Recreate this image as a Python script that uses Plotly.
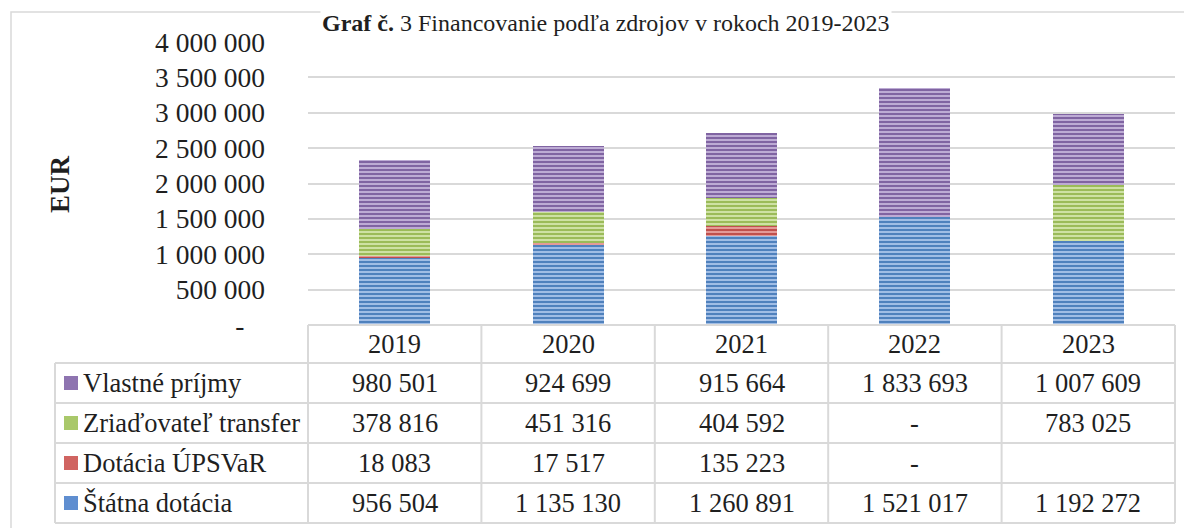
import plotly.graph_objects as go

W, H = 1192, 528
OFF = 8  # page body margin of the browser

years = ["2019", "2020", "2021", "2022", "2023"]
statna_dotacia = [956504, 1135130, 1260891, 1521017, 1192272]
dotacia_upsvar = [18083, 17517, 135223, 0, None]
zriadovatel_transfer = [378816, 451316, 404592, 0, 783025]
vlastne_prijmy = [980501, 924699, 915664, 1833693, 1007609]

series_names = ["Štátna dotácia", "Dotácia ÚPSVaR", "Zriaďovateľ transfer", "Vlastné príjmy"]
series_values = [statna_dotacia, dotacia_upsvar, zriadovatel_transfer, vlastne_prijmy]
series_bg = ["#4f81bd", "#c0504d", "#9bbb59", "#8064a2"]
series_fg = ["#a9c4ea", "#e8a3a1", "#d4e6ad", "#c4b3da"]
series_key = ["#5f8ed0", "#d06461", "#a9c86a", "#8e74b0"]

y_ticks = [0, 500000, 1000000, 1500000, 2000000, 2500000, 3000000, 3500000, 4000000]

FONT = "Liberation Serif"
TXT = "#1f1f1f"
GRID = "#d9d9d9"
TFS = 26.5


def fmt(v):
    if v is None:
        return ""
    if v == 0:
        return "-"
    return f"{v:,}".replace(",", " ")


def px(x):
    return (x - OFF) / W


def py(y):
    return 1 - (y - OFF) / H


plot_l, plot_r, plot_t, plot_b = 308, 1175, 42, 325
leg_l = 55
row_lines = [363, 403, 443, 483, 523]
ncol = len(years)
colw = (plot_r - plot_l) / ncol

fig = go.Figure()
for name, vals, bg, fg in zip(series_names, series_values, series_bg, series_fg):
    fig.add_trace(go.Bar(
        x=years, y=[v if v is not None else 0 for v in vals], name=name,
        marker=dict(color=bg, line=dict(width=0),
                    pattern=dict(shape="-", bgcolor=bg, fgcolor=fg, size=4, solidity=0.45,
                                 fillmode="overlay", fgopacity=1)),
        showlegend=False, hoverinfo="skip"))

shapes = []
annotations = []
# outer chart border
shapes.append(dict(type="rect", xref="paper", yref="paper", x0=px(11), x1=px(1210), y0=py(12), y1=py(560),
                   line=dict(color=GRID, width=1.5), layer="below"))
# table horizontal lines
shapes.append(dict(type="line", xref="paper", yref="paper", x0=px(plot_l), x1=px(plot_r), y0=py(plot_b), y1=py(plot_b),
                   line=dict(color=GRID, width=2)))
for yl in row_lines:
    shapes.append(dict(type="line", xref="paper", yref="paper", x0=px(leg_l), x1=px(plot_r), y0=py(yl), y1=py(yl),
                       line=dict(color=GRID, width=2)))
# vertical lines
for i in range(ncol + 1):
    xl = plot_l + i * colw
    shapes.append(dict(type="line", xref="paper", yref="paper", x0=px(xl), x1=px(xl), y0=py(plot_b), y1=py(row_lines[-1]),
                       line=dict(color=GRID, width=2)))
shapes.append(dict(type="line", xref="paper", yref="paper", x0=px(leg_l), x1=px(leg_l), y0=py(row_lines[0]), y1=py(row_lines[-1]),
                   line=dict(color=GRID, width=2)))

# header years
for i, yr in enumerate(years):
    annotations.append(dict(x=px(plot_l + (i + 0.5) * colw), y=py((plot_b + row_lines[0]) / 2), xref="paper", yref="paper",
                            text=yr, showarrow=False, xanchor="center", yanchor="middle",
                            font=dict(family=FONT, size=TFS, color=TXT)))

# table rows (top to bottom: reverse of stack order)
order = list(range(len(series_names)))[::-1]
for r, si in enumerate(order):
    yc = (row_lines[r] + row_lines[r + 1]) / 2
    shapes.append(dict(type="rect", xref="paper", yref="paper", x0=px(64), x1=px(78), y0=py(yc - 7), y1=py(yc + 7),
                       fillcolor=series_key[si], line=dict(width=0)))
    annotations.append(dict(x=px(81), y=py(yc), xref="paper", yref="paper", text=series_names[si],
                            showarrow=False, xanchor="left", yanchor="middle",
                            font=dict(family=FONT, size=TFS, color=TXT)))
    for i in range(ncol):
        annotations.append(dict(x=px(plot_l + (i + 0.5) * colw), y=py(yc), xref="paper", yref="paper",
                                text=fmt(series_values[si][i]), showarrow=False, xanchor="center", yanchor="middle",
                                font=dict(family=FONT, size=TFS, color=TXT)))

# y axis title
annotations.append(dict(x=px(60), y=py(184), xref="paper", yref="paper", text="<b>EUR</b>", textangle=-90,
                        showarrow=False, xanchor="center", yanchor="middle",
                        font=dict(family=FONT, size=27, color=TXT)))
# title
annotations.append(dict(x=px(606), y=py(8), xref="paper", yref="paper",
                        text="<b>Graf č.</b> 3 Financovanie podľa zdrojov v rokoch 2019-2023",
                        showarrow=False, xanchor="center", yanchor="top", bgcolor="white",
                        font=dict(family=FONT, size=24, color=TXT)))

fig.update_layout(
    width=W, height=H, margin=dict(l=0, r=0, t=0, b=0, autoexpand=False),
    paper_bgcolor="white", plot_bgcolor="white",
    barmode="stack", bargap=0.59,
    shapes=shapes, annotations=annotations,
    xaxis=dict(domain=[px(plot_l), px(plot_r)], range=[-0.5, 4.5], showticklabels=False, automargin=False,
               showgrid=False, zeroline=False, showline=False, fixedrange=True),
    yaxis=dict(domain=[py(plot_b), py(plot_t)], range=[0, 4000000], tickvals=y_ticks, automargin=False,
               ticktext=[fmt(v) + ("\u00a0\u00a0\u00a0" if v == 0 else "") for v in y_ticks],
               showgrid=True, gridcolor=GRID, gridwidth=2, zeroline=False, showline=False,
               ticks="", ticklabelstandoff=42,
               tickfont=dict(family=FONT, size=27.5, color=TXT)),
    font=dict(family=FONT, color=TXT),
)

fig.write_html("out.html")
